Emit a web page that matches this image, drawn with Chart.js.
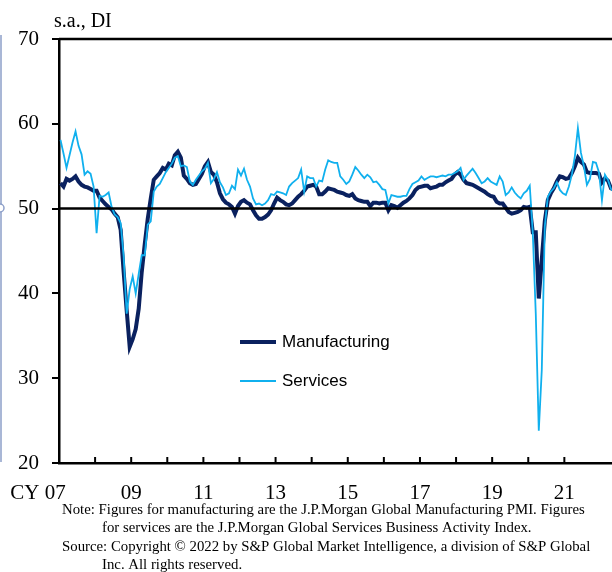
<!DOCTYPE html>
<html><head><meta charset="utf-8">
<script src="https://cdn.jsdelivr.net/npm/chart.js@4/dist/chart.umd.min.js"></script>
<style>html,body{margin:0;padding:0;background:#fff;}#wrap{width:612px;height:572px;position:relative;}</style>
</head><body><div id="wrap"><canvas id="c" width="612" height="572"></canvas></div>
<script>
// ---- data (monthly, Jan 2007 - May 2022) ----
const START_YEAR = 2007;
const manufacturing = [
  53.0, 52.6, 53.5, 53.3, 53.5, 53.8, 53.2, 52.8, 52.6, 52.5, 52.3, 52.1,
  52.1, 51.3, 50.9, 50.5, 50.2, 49.9, 49.4, 49.0, 47.5, 42.5, 38.0, 33.7,
  34.6, 35.8, 38.2, 42.5, 45.8, 48.8, 51.2, 53.4, 53.8, 54.2, 54.8, 54.6,
  55.3, 55.1, 56.3, 56.7, 56.0, 53.9, 53.5, 53.0, 52.8, 52.9, 53.5, 54.1,
  55.0, 55.5, 54.3, 54.0, 53.1, 51.8, 51.1, 50.7, 50.5, 50.2, 49.4, 50.3,
  50.8, 51.0, 50.7, 50.5, 49.8, 49.2, 48.8, 48.8, 49.0, 49.3, 49.8, 50.6,
  51.3, 51.0, 50.8, 50.5, 50.4, 50.6, 51.0, 51.4, 51.7, 52.1, 52.6, 52.7,
  52.8, 52.6, 51.7, 51.7, 52.0, 52.4, 52.3, 52.2, 52.0, 51.9, 51.8, 51.6,
  51.5, 51.7, 51.2, 51.0, 50.9, 50.8, 50.8, 50.3, 50.7, 50.7, 50.6, 50.7,
  50.7, 49.8, 50.4, 50.3, 50.1, 50.4, 50.7, 50.9, 51.2, 51.6, 52.2, 52.5,
  52.6, 52.7, 52.7, 52.4, 52.5, 52.6, 52.8, 52.8, 53.1, 53.3, 53.5, 54.0,
  54.3, 54.0, 53.4, 53.0, 52.9, 52.8, 52.6, 52.4, 52.2, 52.0, 51.7, 51.5,
  51.4, 50.8, 50.6, 50.6, 50.1, 49.6, 49.4, 49.5, 49.6, 49.8, 50.2, 50.1,
  50.2, 47.2, 47.2, 39.4, 44.0, 48.5, 51.0, 51.8, 52.4, 53.2, 53.8, 53.7,
  53.5, 53.6, 54.2, 55.0, 56.0, 55.5, 55.2, 54.3, 54.2, 54.2, 54.2, 54.1,
  53.1, 53.6, 53.3, 52.4, 52.2
];
const services = [
  58.1, 56.5, 54.8, 56.3, 57.8, 59.1, 57.4, 56.4, 54.0, 54.4, 54.1, 52.6,
  47.1, 51.5, 51.4, 51.6, 51.9, 50.2, 49.3, 49.0, 48.3, 44.3, 37.6, 40.5,
  42.0, 40.0, 42.3, 44.5, 44.5, 48.1, 48.5, 52.0, 52.6, 52.9, 53.6, 54.3,
  54.8, 55.3, 56.0, 56.2, 55.0, 55.1, 54.9, 53.2, 52.8, 53.4, 53.9, 54.4,
  54.7, 55.4, 53.0, 53.5, 54.3, 53.1, 52.5, 51.6, 51.8, 52.7, 52.3, 54.6,
  53.9, 54.7, 53.4, 52.6, 51.2, 50.5, 50.6, 50.4, 50.6, 51.0, 51.7, 51.6,
  52.0, 51.9, 51.8, 51.6, 52.6, 53.0, 53.3, 53.6, 54.6, 52.0, 53.8, 53.6,
  53.6, 52.6, 53.3, 53.2, 54.6, 55.7, 55.5, 55.4, 55.4, 53.8, 53.4, 52.9,
  53.2, 54.0, 54.9, 54.5, 54.0, 53.6, 54.0, 53.7, 53.1, 53.2, 52.8, 52.3,
  52.2, 50.6, 51.6, 51.5, 51.4, 51.4, 51.5, 51.5, 52.3, 52.9, 53.1, 53.3,
  53.8, 53.4, 53.6, 53.8, 53.8, 53.7, 53.8, 53.9, 53.8, 54.0, 54.0, 54.2,
  54.4, 54.8, 53.4, 53.9, 54.3, 54.7, 54.2, 53.6, 53.0, 53.2, 53.6, 53.2,
  53.0, 52.8, 53.8, 53.2, 51.6, 51.9, 52.5, 51.9, 51.5, 51.2, 51.8, 52.1,
  52.7, 47.2, 37.6, 23.8, 31.0, 47.9, 51.4, 52.0, 52.4, 53.1, 52.2, 51.8,
  51.6, 52.6, 54.0, 56.2, 59.5, 56.6, 55.0, 52.8, 53.5, 55.5, 55.4, 54.3,
  51.0, 54.0, 53.4, 52.3, 52.0
];
const seriesNames = ['Manufacturing', 'Services'];
const yTickValues = [20, 30, 40, 50, 60, 70];
const xTickLabels = {2007: 'CY 07        ', 2009: '09', 2011: '11', 2013: '13', 2015: '15', 2017: '17', 2019: '19', 2021: '21'};
const REF_LEVEL = 50;
const unitLabel = 's.a., DI';
const noteLines = [
  'Note: Figures for manufacturing are the J.P.Morgan Global Manufacturing PMI. Figures',
  'for services are the J.P.Morgan Global Services Business Activity Index.',
  'Source: Copyright \u00a9 2022 by S&P Global Market Intelligence, a division of S&P Global',
  'Inc. All rights reserved.'
];

const SERIF = "'Liberation Serif', 'Times New Roman', serif";
const SANS = "'Liberation Sans', Arial, sans-serif";
const toPoints = arr => arr.map((v, i) => ({x: START_YEAR + (i + 0.5) / 12, y: v}));

const deco = {
  id: 'deco',
  beforeDraw(chart) {
    const ctx = chart.ctx;
    ctx.save(); ctx.fillStyle = '#fff'; ctx.fillRect(0, 0, chart.width, chart.height);
    ctx.strokeStyle = '#8d9fc9'; ctx.lineWidth = 1.5;
    ctx.beginPath(); ctx.moveTo(1, 35); ctx.lineTo(1, 462); ctx.stroke();
    ctx.beginPath(); ctx.arc(0, 208, 4, 0, Math.PI * 2); ctx.fillStyle = '#fff'; ctx.fill(); ctx.stroke();
    ctx.restore();
  },
  afterDatasetsDraw(chart) {
    const {ctx, chartArea: a, scales: {x, y}} = chart;
    ctx.save();
    ctx.strokeStyle = '#000';
    ctx.lineWidth = 2.5;
    const py = y.getPixelForValue(REF_LEVEL);
    ctx.beginPath(); ctx.moveTo(a.left, py); ctx.lineTo(a.right, py); ctx.stroke();
    ctx.beginPath(); ctx.moveTo(a.left, a.top); ctx.lineTo(a.right, a.top); ctx.stroke();
    ctx.lineWidth = 2;
    x.ticks.forEach(t => {
      const px = x.getPixelForValue(t.value);
      ctx.beginPath(); ctx.moveTo(px, a.bottom); ctx.lineTo(px, a.bottom - 6); ctx.stroke();
    });
    const legendPos = [[240, 342], [240, 381]];
    chart.data.datasets.forEach((ds, i) => {
      const [lx, ly] = legendPos[i];
      ctx.strokeStyle = ds.borderColor; ctx.lineWidth = ds.borderWidth;
      ctx.beginPath(); ctx.moveTo(lx, ly); ctx.lineTo(lx + 36, ly); ctx.stroke();
      ctx.fillStyle = '#000'; ctx.font = '17px ' + SANS; ctx.textBaseline = 'middle'; ctx.textAlign = 'left';
      ctx.fillText(ds.label, lx + 42, ly);
    });
    ctx.fillStyle = '#000'; ctx.font = '20px ' + SERIF; ctx.textBaseline = 'middle'; ctx.textAlign = 'left';
    ctx.fillText(unitLabel, 54, 22);
    ctx.font = '14.8px ' + SERIF;
    const noteX = [62, 102, 62, 102];
    const noteY = [510, 528.5, 547, 565.5];
    noteLines.forEach((s, i) => ctx.fillText(s, noteX[i], noteY[i]));
    ctx.restore();
  }
};

new Chart(document.getElementById('c'), {
  type: 'line',
  data: {
    datasets: [
      {label: seriesNames[0], data: toPoints(manufacturing), borderColor: '#0a215f', borderWidth: 4, pointRadius: 0, tension: 0, order: 1},
      {label: seriesNames[1], data: toPoints(services), borderColor: '#10b0ee', borderWidth: 1.8, pointRadius: 0, tension: 0, order: 0}
    ]
  },
  options: {
    responsive: false,
    animation: false,
    events: [],
    layout: {padding: {top: 39, left: 0, right: 0, bottom: 0}},
    plugins: {legend: {display: false}, tooltip: {enabled: false}, title: {display: false}},
    scales: {
      x: {
        type: 'linear', min: START_YEAR, max: 2022.32,
        afterFit: s => { s.height = 109; s.paddingLeft = 0; s.paddingRight = 0; },
        afterBuildTicks: s => { s.ticks = s.ticks.filter(t => Number.isInteger(t.value)); },
        grid: {display: false},
        border: {display: true, color: '#000', width: 2.5},
        ticks: {stepSize: 1, autoSkip: false, maxRotation: 0, padding: 10, color: '#000',
          font: {family: SERIF, size: 21}, callback: v => xTickLabels[v] || ''}
      },
      y: {
        min: yTickValues[0], max: yTickValues[yTickValues.length - 1],
        afterFit: s => { s.width = 59; s.paddingTop = 0; s.paddingBottom = 0; },
        afterBuildTicks: s => { s.ticks = yTickValues.map(v => ({value: v})); },
        grid: {display: true, drawOnChartArea: false, drawTicks: true, tickLength: 7, color: '#000', lineWidth: 2},
        border: {display: true, color: '#000', width: 2.5},
        ticks: {padding: 13, color: '#000', font: {family: SERIF, size: 21}}
      }
    }
  },
  plugins: [deco]
});
</script></body></html>
